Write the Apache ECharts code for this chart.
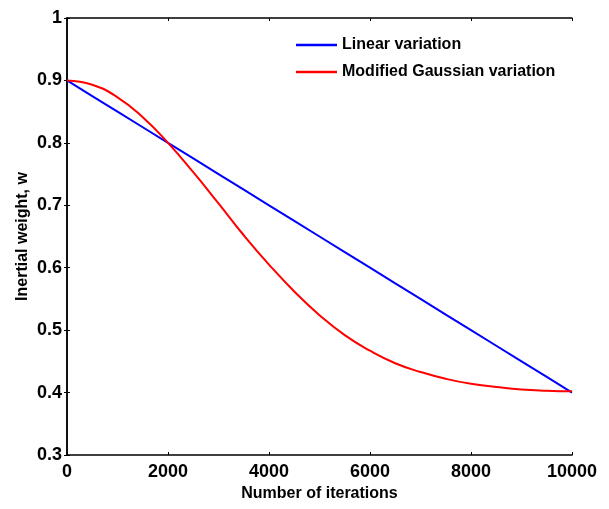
<!DOCTYPE html>
<html>
<head>
<meta charset="utf-8">
<script src="https://cdn.jsdelivr.net/npm/echarts@6/dist/echarts.min.js"></script>
<style>html,body{margin:0;padding:0;background:#fff}#c{width:609px;height:509px}</style>
</head>
<body>
<div id="c"></div>
<script>
var iterations = [0, 500, 1000, 1500, 2000, 2500, 3000, 3500, 4000, 4500, 5000, 5500, 6000, 6500, 7000, 7500, 8000, 8500, 9000, 9500, 10000];
var linearW = [0.9, 0.875, 0.85, 0.825, 0.8, 0.775, 0.75, 0.725, 0.7, 0.675, 0.65, 0.625, 0.6, 0.575, 0.55, 0.525, 0.5, 0.475, 0.45, 0.425, 0.4];
var gaussW = [0.900, 0.893, 0.873, 0.841, 0.800, 0.753, 0.703, 0.652, 0.605, 0.562, 0.524, 0.492, 0.467, 0.447, 0.433, 0.422, 0.414, 0.409, 0.405, 0.403, 0.402];
var seriesNames = ['Linear variation', 'Modified Gaussian variation'];
var xTicks = [0, 2000, 4000, 6000, 8000, 10000];
var yTicks = [0.3, 0.4, 0.5, 0.6, 0.7, 0.8, 0.9, 1];

function pairs(xs, ys) { return xs.map(function (x, i) { return [x, ys[i]]; }); }

var font = 'Liberation Sans, Arial, sans-serif';
var axisLine = { show: true, lineStyle: { color: '#000', width: 1.5 } };
var tick = { show: true, inside: true, length: 3, lineStyle: { color: '#000', width: 1 } };

var chart = echarts.init(document.getElementById('c'), null, { renderer: 'canvas' });
chart.setOption({
  animation: false,
  backgroundColor: '#fff',
  grid: { left: 67, top: 18, right: 37, bottom: 54 },
  legend: {
    orient: 'vertical', left: 291, top: 32,
    icon: 'rect', itemWidth: 41, itemHeight: 2.5, itemGap: 11,
    textStyle: { fontFamily: font, fontWeight: 'bold', fontSize: 16, color: '#000' },
    data: seriesNames
  },
  xAxis: [{
    type: 'value', min: xTicks[0], max: xTicks[xTicks.length - 1], interval: 2000,
    axisLine: axisLine, axisTick: tick, splitLine: { show: false },
    axisLabel: { color: '#000', fontFamily: font, fontWeight: 'bold', fontSize: 18, margin: 8,
      formatter: function (v) { return String(v); } },
    name: 'Number of iterations', nameLocation: 'middle', nameGap: 31, nameMoveOverlap: false,
    nameTextStyle: { color: '#000', fontFamily: font, fontWeight: 'bold', fontSize: 16 }
  }, {
    type: 'value', position: 'top', min: xTicks[0], max: xTicks[xTicks.length - 1], interval: 2000,
    axisLine: axisLine, axisTick: tick, axisLabel: { show: false }, splitLine: { show: false }
  }],
  yAxis: [{
    type: 'value', min: yTicks[0], max: yTicks[yTicks.length - 1], interval: 0.1,
    axisLine: axisLine, axisTick: tick, splitLine: { show: false },
    axisLabel: { color: '#000', fontFamily: font, fontWeight: 'bold', fontSize: 18, margin: 5,
      formatter: function (v) { return String(Math.round(v * 10) / 10); } },
    name: 'Inertial weight, w', nameLocation: 'middle', nameGap: 36, nameMoveOverlap: false,
    nameTextStyle: { color: '#000', fontFamily: font, fontWeight: 'bold', fontSize: 16 }
  }, {
    type: 'value', position: 'right', min: yTicks[0], max: yTicks[yTicks.length - 1], interval: 0.1,
    axisLine: axisLine, axisTick: tick, axisLabel: { show: false }, splitLine: { show: false }
  }],
  series: [{
    name: seriesNames[0], type: 'line', symbol: 'none', data: pairs(iterations, linearW),
    lineStyle: { color: '#0000ff', width: 2 }, itemStyle: { color: '#0000ff' }
  }, {
    name: seriesNames[1], type: 'line', symbol: 'none', smooth: true, data: pairs(iterations, gaussW),
    lineStyle: { color: '#ff0000', width: 2 }, itemStyle: { color: '#ff0000' }
  }]
});
</script>
</body>
</html>
